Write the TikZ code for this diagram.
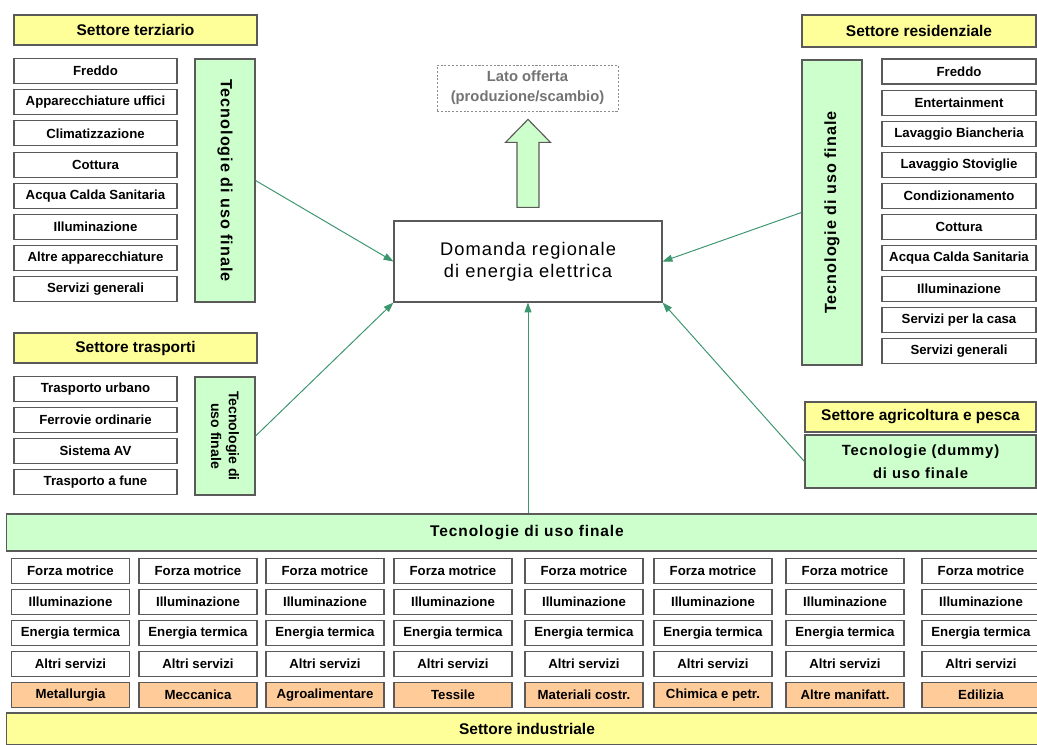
\documentclass[tikz,border=0pt]{standalone}
\usepackage{fontspec}
\setmainfont{Liberation Sans}
\newfontfamily\spacedfont[LetterSpace=6]{Liberation Sans}
\usepackage{tikz}
\usetikzlibrary{arrows.meta}
\definecolor{sectoryellow}{RGB}{255,255,153}
\definecolor{techgreen}{RGB}{204,255,204}
\definecolor{branchorange}{RGB}{255,204,153}
\definecolor{boxline}{RGB}{90,90,90}
\definecolor{linkgreen}{RGB}{60,150,110}
\tikzstyle{Sector}=[rectangle, draw=boxline, line width=0.8pt, fill=sectoryellow, minimum height=0.75cm, inner sep=0, font=\fontsize{11}{13}\selectfont\bfseries]
\tikzstyle{Use}=[rectangle, draw=boxline, line width=0.8pt, fill=white, minimum height=0.625cm, inner sep=0, font=\fontsize{9.4}{11}\selectfont\bfseries]
\tikzstyle{Branch}=[Use, fill=branchorange]
\tikzstyle{Tech}=[rectangle, draw=boxline, line width=0.8pt, fill=techgreen, inner sep=0, align=center, font=\spacedfont\fontsize{11.5}{14}\selectfont\bfseries]
\tikzstyle{Link}=[draw=linkgreen, line width=0.7pt, -{Triangle[length=7pt,width=5pt]}]

\begin{document}
\begin{tikzpicture}[x=0.025cm, y=-0.025cm]
    \useasboundingbox (0,0) rectangle (1037,744);

    % settore terziario
    \path
    (135.5,30) node[Sector, minimum width=6.075cm] (terz) {Settore terziario}
    (225,180.5) node[Tech, rotate=-90, minimum width=6.075cm, minimum height=1.5cm] (tecT) {Tecnologie di uso finale};
    \path
    (95.5,71) node[Use, minimum width=4.075cm] (terz1) {Freddo}
    (95.5,102.2) node[Use, minimum width=4.075cm] (terz2) {Apparecchiature uffici}
    (95.5,133.4) node[Use, minimum width=4.075cm] (terz3) {Climatizzazione}
    (95.5,164.6) node[Use, minimum width=4.075cm] (terz4) {Cottura}
    (95.5,195.8) node[Use, minimum width=4.075cm] (terz5) {Acqua Calda Sanitaria}
    (95.5,227) node[Use, minimum width=4.075cm] (terz6) {Illuminazione}
    (95.5,258.2) node[Use, minimum width=4.075cm] (terz7) {Altre apparecchiature}
    (95.5,289.4) node[Use, minimum width=4.075cm] (terz8) {Servizi generali};

    % settore trasporti
    \path
    (135.5,348) node[Sector, minimum width=6.075cm] (trasp) {Settore trasporti}
    (225,436) node[Tech, rotate=-90, minimum width=2.95cm, minimum height=1.5cm, font=\fontsize{10}{12.5}\selectfont\bfseries] (tecTr) {Tecnologie di\\uso finale};
    \path
    (95.5,389) node[Use, minimum width=4.075cm] (trasp1) {Trasporto urbano}
    (95.5,419.9) node[Use, minimum width=4.075cm] (trasp2) {Ferrovie ordinarie}
    (95.5,450.8) node[Use, minimum width=4.075cm] (trasp3) {Sistema AV}
    (95.5,481.7) node[Use, minimum width=4.075cm] (trasp4) {Trasporto a fune};

    % domanda e offerta
    \path
    (528,261.5) node[rectangle, draw=boxline, line width=0.8pt, fill=white, minimum width=6.7cm, minimum height=2.025cm, align=center, font=\spacedfont\fontsize{13}{15.6}\selectfont] (dom) {Domanda regionale\\di energia elettrica}
    (527.5,88) node[rectangle, draw=black!45, dashed, dash pattern=on 1.5pt off 1.2pt, minimum width=4.525cm, minimum height=1.15cm, align=center, text=black!55, font=\fontsize{10.5}{14}\selectfont\bfseries] (off) {Lato offerta\\(produzione/scambio)};
    \draw[draw=boxline, line width=0.8pt, fill=techgreen]
    ([xshift=-0.275cm, yshift=0.325cm]dom.north) -- ++(0,1.625cm) -- ++(-0.2875cm,0)
    -- ++(0.5625cm,0.575cm) -- ++(0.5625cm,-0.575cm) -- ++(-0.2875cm,0) -- ++(0,-1.625cm) -- cycle;

    % settore residenziale
    \path
    (919,31) node[Sector, minimum width=5.85cm, minimum height=0.8cm] (resid) {Settore residenziale}
    (832,212.5) node[Tech, rotate=90, minimum width=7.625cm, minimum height=1.5cm] (tecR) {Tecnologie di uso finale};
    \path
    (959,71.5) node[Use, minimum width=3.85cm] (resid1) {Freddo}
    (959,102.6) node[Use, minimum width=3.85cm] (resid2) {Entertainment}
    (959,133.7) node[Use, minimum width=3.85cm] (resid3) {Lavaggio Biancheria}
    (959,164.8) node[Use, minimum width=3.85cm] (resid4) {Lavaggio Stoviglie}
    (959,195.9) node[Use, minimum width=3.85cm] (resid5) {Condizionamento}
    (959,227) node[Use, minimum width=3.85cm] (resid6) {Cottura}
    (959,258.1) node[Use, minimum width=3.85cm] (resid7) {Acqua Calda Sanitaria}
    (959,289.2) node[Use, minimum width=3.85cm] (resid8) {Illuminazione}
    (959,320.3) node[Use, minimum width=3.85cm] (resid9) {Servizi per la casa}
    (959,351.4) node[Use, minimum width=3.85cm] (resid10) {Servizi generali};

    % settore agricoltura
    \path
    (920.5,417) node[Sector, minimum width=5.775cm] (agri) {Settore agricoltura e pesca}
    (920.5,461.5) node[Tech, minimum width=5.775cm, minimum height=1.325cm, font=\spacedfont\fontsize{10.5}{16}\selectfont\bfseries] (dummy) {Tecnologie (dummy)\\di uso finale};

    % settore industriale
    \path
    (527,532.5) node[Tech, minimum width=26cm, minimum height=0.925cm, font=\spacedfont\fontsize{11}{13}\selectfont\bfseries] (tecI) {Tecnologie di uso finale}
    (527,729) node[Sector, minimum width=26cm, minimum height=0.8cm] (ind) {Settore industriale};
    \foreach \cx/\sect [count=\c] in {70.5/Metallurgia, 198/Meccanica, 325/Agroalimentare, 453/Tessile, 584/Materiali costr., 713/Chimica e petr., 845/Altre manifatt., 981/Edilizia} {
        \path
        (\cx,571) node[Use, minimum width=2.95cm] (forza\c) {Forza motrice}
        (\cx,601.9) node[Use, minimum width=2.95cm] (illum\c) {Illuminazione}
        (\cx,632.8) node[Use, minimum width=2.95cm] (term\c) {Energia termica}
        (\cx,663.7) node[Use, minimum width=2.95cm] (altri\c) {Altri servizi}
        (\cx,694.6) node[Branch, minimum width=2.95cm] (branch\c) {\sect};
    }

    \draw[Link] (tecT.north) -- (dom.west);
    \draw[Link] (tecTr.north) -- (dom.south west);
    \draw[Link] (tecR.north) -- (dom.east);
    \draw[Link] (dummy.west) -- (dom.south east);
    \draw[Link] (tecI.north -| dom.south) -- (dom.south);
\end{tikzpicture}
\end{document}
